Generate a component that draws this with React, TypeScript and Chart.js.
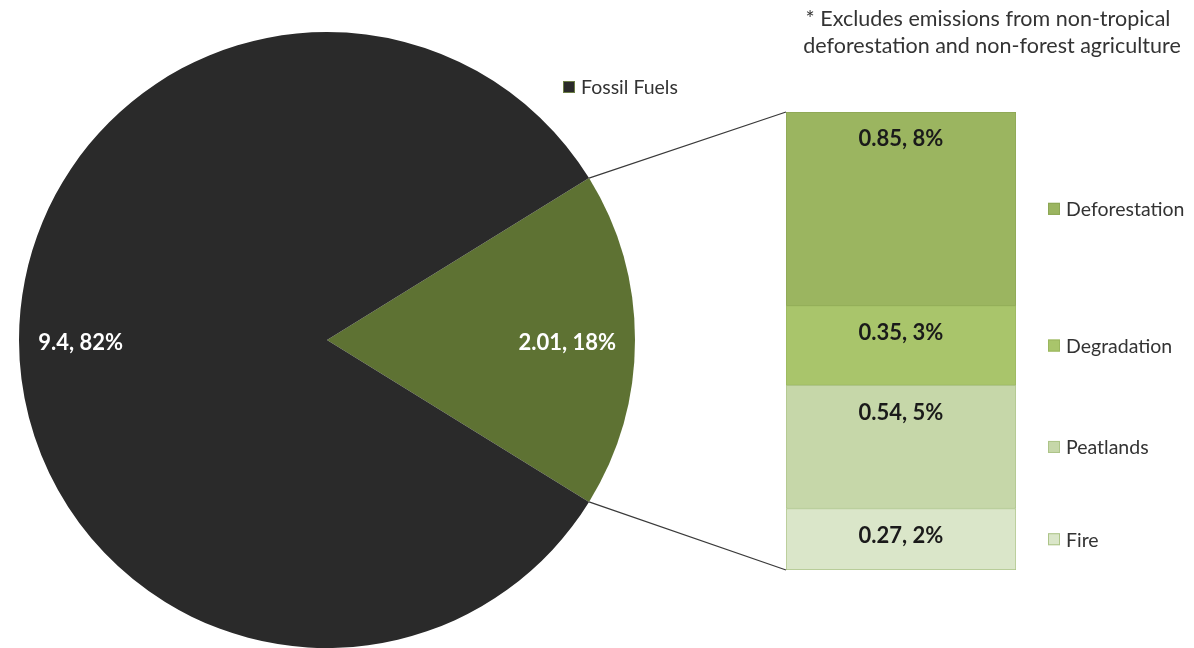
import { useEffect, useRef } from 'react';
import { Chart, registerables } from 'chart.js';
Chart.register(...registerables);

const pieCategories = ['Fossil Fuels', 'Tropical land use*'];
const pieValues = [9.4, 2.01];
const piePercents = ['82%', '18%'];
const landCategories = ['Deforestation', 'Degradation', 'Peatlands', 'Fire'];
const landValues = [0.85, 0.35, 0.54, 0.27];
const landPercents = ['8%', '3%', '5%', '2%'];
const noteLines = ['* Excludes emissions from non-tropical', 'deforestation and non-forest agriculture'];

const pieColors = ['#2a2a2a', '#5e7233'];
const landColors = ['#9bb560', '#a9c56b', '#c6d7a9', '#dae6c9'];
const landBorders = ['#8ca654', '#9ab65e', '#adc488', '#adc488'];

const W = 1194;
const H = 648;
const FONT = 'Lato, "Open Sans", sans-serif';

export default function App() {
  const pieRef = useRef<HTMLCanvasElement>(null);
  const barRef = useRef<HTMLCanvasElement>(null);

  useEffect(() => {
    document.body.style.margin = '0';
    const total = pieValues.reduce((a, b) => a + b, 0);
    const landFrac = pieValues[1] / total;

    const pieLabels = {
      id: 'pieLabels',
      afterDatasetsDraw(chart: any) {
        const ctx = chart.ctx;
        const meta = chart.getDatasetMeta(0);
        const order = [1, 0];
        const radial = [0.78, 0.8];
        meta.data.forEach((arc: any, i: number) => {
          const p = arc.getProps(['x', 'y', 'startAngle', 'endAngle', 'outerRadius'], true);
          const mid = (p.startAngle + p.endAngle) / 2;
          const r = p.outerRadius * radial[i];
          const idx = order[i];
          ctx.save();
          ctx.fillStyle = '#ffffff';
          ctx.font = `bold 22px ${FONT}`;
          ctx.textAlign = 'center';
          ctx.textBaseline = 'middle';
          ctx.fillText(`${pieValues[idx]}, ${piePercents[idx]}`, p.x + r * Math.cos(mid), p.y + r * Math.sin(mid) + 3);
          ctx.restore();
        });
      },
    };

    const pie = new Chart(pieRef.current!, {
      type: 'pie',
      data: {
        labels: [pieCategories[1], pieCategories[0]],
        datasets: [
          {
            data: [pieValues[1], pieValues[0]],
            backgroundColor: [pieColors[1], pieColors[0]],
            borderWidth: 0,
          },
        ],
      },
      options: {
        animation: false,
        responsive: false,
        rotation: 90 - landFrac * 180,
        layout: { padding: { left: 19, right: 559, top: 32, bottom: 0 } },
        plugins: { legend: { display: false }, tooltip: { enabled: false } },
      },
      plugins: [pieLabels],
    });

    const overlay = {
      id: 'overlay',
      afterDraw(chart: any) {
        const ctx = chart.ctx;
        const area = chart.chartArea;
        // connectors
        const arc: any = pie.getDatasetMeta(0).data[0];
        const a = arc.getProps(['x', 'y', 'startAngle', 'endAngle', 'outerRadius'], true);
        const topMeta = chart.getDatasetMeta(chart.data.datasets.length - 1).data[0] as any;
        const botMeta = chart.getDatasetMeta(0).data[0] as any;
        const barTop = topMeta.getProps(['y'], true).y;
        const barBot = botMeta.getProps(['base'], true).base;
        ctx.save();
        ctx.strokeStyle = '#3a3a3a';
        ctx.lineWidth = 1.3;
        ctx.beginPath();
        ctx.moveTo(a.x + a.outerRadius * Math.cos(a.startAngle), a.y + a.outerRadius * Math.sin(a.startAngle));
        ctx.lineTo(area.left, barTop);
        ctx.moveTo(a.x + a.outerRadius * Math.cos(a.endAngle), a.y + a.outerRadius * Math.sin(a.endAngle));
        ctx.lineTo(area.left, barBot);
        ctx.stroke();
        ctx.restore();

        // segment labels and legend
        chart.data.datasets.forEach((ds: any, di: number) => {
          const idx = ds.landIndex;
          const el: any = chart.getDatasetMeta(di).data[0];
          const p = el.getProps(['x', 'y', 'base'], true);
          ctx.save();
          ctx.fillStyle = '#1a1a1a';
          ctx.font = `bold 22px ${FONT}`;
          ctx.textAlign = 'center';
          ctx.textBaseline = 'middle';
          ctx.fillText(`${landValues[idx]}, ${landPercents[idx]}`, p.x, p.y + 27);
          const cy = (p.y + p.base) / 2;
          const lx = area.right + 32;
          ctx.fillStyle = landColors[idx];
          ctx.strokeStyle = landBorders[idx];
          ctx.lineWidth = 1;
          ctx.fillRect(lx, cy - 6, 12, 12);
          ctx.strokeRect(lx + 0.5, cy - 5.5, 11, 11);
          ctx.fillStyle = '#333333';
          ctx.font = `19.5px ${FONT}`;
          ctx.textAlign = 'left';
          ctx.fillText(landCategories[idx], lx + 18, cy + 1);
          ctx.restore();
        });

        // fossil fuels legend
        ctx.save();
        ctx.fillStyle = pieColors[0];
        ctx.fillRect(563, 81, 12, 12);
        ctx.strokeStyle = '#6b7d45';
        ctx.lineWidth = 1;
        ctx.strokeRect(563.5, 81.5, 11, 11);
        ctx.fillStyle = '#333333';
        ctx.font = `19.5px ${FONT}`;
        ctx.textAlign = 'left';
        ctx.textBaseline = 'middle';
        ctx.fillText(pieCategories[0], 581, 88);
        // note
        ctx.fillStyle = '#333333';
        ctx.font = `21.5px ${FONT}`;
        ctx.textAlign = 'center';
        ctx.fillText(noteLines[0], 988, 19);
        ctx.fillText(noteLines[1], 992, 46);
        ctx.restore();
      },
    };

    const stackOrder = [3, 2, 1, 0];
    const bar = new Chart(barRef.current!, {
      type: 'bar',
      data: {
        labels: ['Tropical land use'],
        datasets: stackOrder.map((i) => ({
          label: landCategories[i],
          landIndex: i,
          data: [landValues[i]],
          backgroundColor: landColors[i],
          borderColor: landBorders[i],
          borderWidth: 1,
          borderSkipped: false,
          barPercentage: 1,
          categoryPercentage: 1,
        })) as any,
      },
      options: {
        animation: false,
        responsive: false,
        layout: { padding: { left: 786, right: 178, top: 112, bottom: 78 } },
        scales: {
          x: { stacked: true, display: false },
          y: { stacked: true, display: false, min: 0, max: landValues.reduce((a, b) => a + b, 0) },
        },
        plugins: { legend: { display: false }, tooltip: { enabled: false } },
      },
      plugins: [overlay],
    });

    return () => {
      bar.destroy();
      pie.destroy();
    };
  }, []);

  return (
    <div style={{ position: 'relative', width: W, height: H, background: '#ffffff', overflow: 'hidden' }}>
      <canvas ref={pieRef} width={W} height={H} style={{ position: 'absolute', left: 0, top: 0 }} />
      <canvas ref={barRef} width={W} height={H} style={{ position: 'absolute', left: 0, top: 0 }} />
    </div>
  );
}
